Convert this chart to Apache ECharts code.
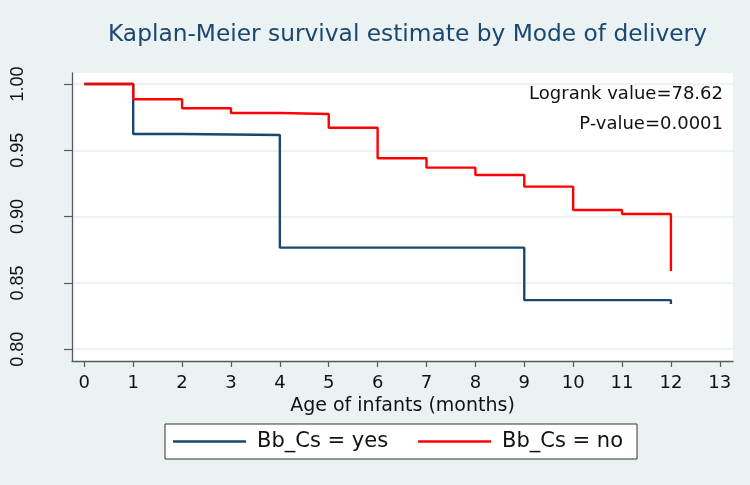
<!DOCTYPE html>
<html>
<head>
<meta charset="utf-8">
<script src="https://cdn.jsdelivr.net/npm/echarts@6/dist/echarts.min.js"></script>
<style>
html,body{margin:0;padding:0;background:#eaf2f3;}
#chart{width:750px;height:485px;}
</style>
</head>
<body>
<div id="chart"></div>
<script>
// Data
const xTicks = [0,1,2,3,4,5,6,7,8,9,10,11,12,13];
const yTicks = [0.80,0.85,0.90,0.95,1.00];
const timesYes = [0,1,2,4,9,12];
const survYes  = [1.000,0.9623,0.9615,0.8766,0.8370,0.8340];
const timesNo  = [0,1,2,3,4,5,6,7,8,9,10,11,12];
const survNo   = [1.000,0.9885,0.9817,0.9781,0.9774,0.9670,0.9440,0.9369,0.9314,0.9226,0.9050,0.9020,0.8590];
const seriesNames = ['Bb_Cs = yes','Bb_Cs = no'];
const titleText = 'Kaplan-Meier survival estimate by Mode of delivery';
const xName = 'Age of infants (months)';
const noteLines = ['Logrank value=78.62','P-value=0.0001'];

const chart = echarts.init(document.getElementById('chart'), null, {renderer:'canvas'});
const wide = 'DejaVu Sans';
const option = {
  backgroundColor:'#eaf2f3',
  animation:false,
  title:{
    text:titleText, left:103, top:18,
    textStyle:{fontFamily:wide, fontSize:23.3, fontWeight:'normal', color:'#1a476f'}
  },
  grid:{left:72, right:17, top:73, bottom:124, show:true, backgroundColor:'#ffffff', borderWidth:0},
  xAxis:{
    type:'value', min:-0.252, max:13.27,
    name:xName, nameLocation:'middle', nameGap:32,
    nameTextStyle:{fontFamily:wide, fontSize:19, color:'#111'},
    axisLine:{show:true, onZero:false, lineStyle:{color:'#5a5a5a', width:1.3}},
    axisTick:{show:true, length:6, customValues:xTicks, lineStyle:{color:'#5a5a5a', width:1.2}},
    axisLabel:{customValues:xTicks, margin:13, fontFamily:wide, fontSize:18, color:'#111'},
    splitLine:{show:false}
  },
  yAxis:{
    type:'value', min:0.7911, max:1.0083,
    axisLine:{show:true, onZero:false, lineStyle:{color:'#5a5a5a', width:1.3}},
    axisTick:{show:true, length:8, customValues:yTicks, lineStyle:{color:'#5a5a5a', width:1.2}},
    axisLabel:{customValues:yTicks, rotate:90, margin:45, fontFamily:'Liberation Sans', fontSize:18, color:'#111',
      formatter:(v)=>v.toFixed(2)},
    splitLine:{show:true, lineStyle:{color:'#e6eff1', width:1.5}}
  },
  legend:{
    data:seriesNames, left:165, top:424, orient:'horizontal',
    backgroundColor:'#ffffff', borderColor:'#333', borderWidth:1, borderRadius:0,
    padding:[7,14,7,8], itemGap:30, itemWidth:73, itemHeight:2.5, icon:'rect',
    textStyle:{fontFamily:wide, fontSize:21, color:'#111', padding:[0,0,0,6]}
  },
  graphic:[
    {type:'text', right:27, top:85, style:{text:noteLines[0], fontFamily:wide, fontSize:18, fill:'#111'}},
    {type:'text', right:27, top:115, style:{text:noteLines[1], fontFamily:wide, fontSize:18, fill:'#111'}}
  ],
  series:[
    {name:seriesNames[0], type:'line', step:'end', showSymbol:false, symbol:'none',
     lineStyle:{color:'#1a476f', width:2.4}, itemStyle:{color:'#1a476f'},
     data:timesYes.map((t,i)=>[t, survYes[i]])},
    {name:seriesNames[1], type:'line', step:'end', showSymbol:false, symbol:'none',
     lineStyle:{color:'#ff0000', width:2.4}, itemStyle:{color:'#ff0000'},
     data:timesNo.map((t,i)=>[t, survNo[i]])}
  ]
};
chart.setOption(option);
</script>
</body>
</html>
